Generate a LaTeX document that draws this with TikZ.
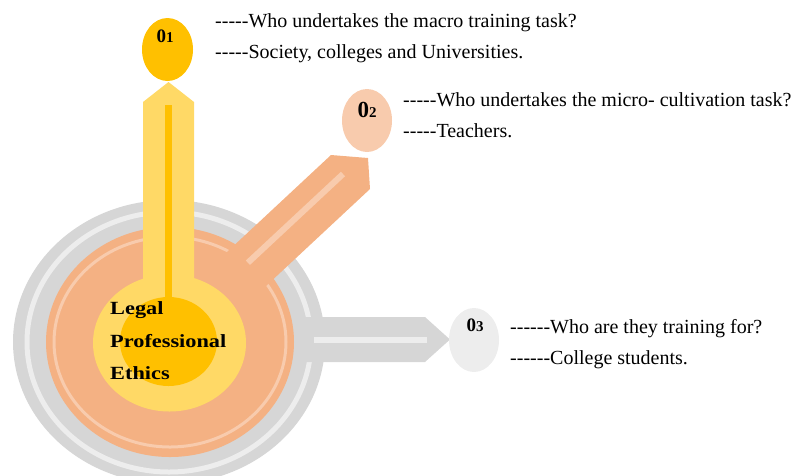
\documentclass[tikz,border=0pt]{standalone}
\usepackage{fontspec}
\setmainfont{Liberation Serif}
\usetikzlibrary{shapes.geometric}
\definecolor{cgold}{HTML}{FFC000}
\definecolor{cyel}{HTML}{FFD966}
\definecolor{corange}{HTML}{F4B183}
\definecolor{cpeach}{HTML}{F8CBAD}
\definecolor{cgrey}{HTML}{D6D6D6}
\definecolor{clgrey}{HTML}{EDEDED}
\newcommand\dsh{-\kern0pt}
\begin{document}
\begin{tikzpicture}[x=1pt,y=-1pt,
  blob/.style={ellipse, inner sep=0pt, outer sep=0pt},
  desc/.style={anchor=base west, inner sep=0pt, font=\fontsize{20}{20}\selectfont},
  numlbl/.style={anchor=base, inner sep=0pt, font=\bfseries\fontsize{19}{19}\selectfont},
  core/.style={anchor=base west, inner sep=0pt, font=\bfseries\fontsize{18.6}{18.6}\selectfont}]
\useasboundingbox (0,0) rectangle (799,475);
\clip (0,0) rectangle (799,475);
% outer grey disc and ring
\node[blob, fill=cgrey, minimum width=312, minimum height=284] (gdisc) at (169,342) {};
\node[blob, draw=clgrey, line width=5pt, minimum width=284, minimum height=260] (gring) at (169,342) {};
% grey horizontal arm
\fill[cgrey] (169,317) -- (425,317) -- (450,339.5) -- (425,362) -- (169,362) -- cycle;
\fill[clgrey] (314,336.5) rectangle (427,342.5);
% orange disc and ring
\node[blob, fill=corange, minimum width=248, minimum height=230] (odisc) at (170,342) {};
\node[blob, draw=cpeach, line width=3pt, minimum width=232, minimum height=210] (oring) at (170,342) {};
% orange diagonal arm
\fill[corange] (147.4,326.2) -- (331,155) -- (368,158) -- (370,189) -- (186.4,360.2) -- cycle;
\fill[cpeach] (340.9,171.8) -- (345.1,176.2) -- (250,264.9) -- (245.8,260.5) -- cycle;
% yellow stem and discs
\fill[cyel] (143,342) -- (143,102) -- (168.5,82) -- (194,102) -- (194,342) -- cycle;
\node[blob, fill=cyel, minimum width=153, minimum height=137] (ydisc) at (169.5,343) {};
\node[blob, fill=cgold, minimum width=97, minimum height=89] (cdisc) at (168.5,341.5) {};
\fill[cgold] (165,105) rectangle (172,300);
% bubbles
\node[blob, fill=cgold, minimum width=51, minimum height=63] (b1) at (167.5,49.5) {};
\node[blob, fill=cpeach, minimum width=50, minimum height=63] (b2) at (367,120.5) {};
\node[blob, fill=clgrey, minimum width=50, minimum height=64] (b3) at (474,340) {};
\node[numlbl] (n1) at (165,42) {0{\fontsize{15}{15}\selectfont 1}};
\node[numlbl, font=\bfseries\fontsize{23}{23}\selectfont] (n2) at (367,117.7) {0{\fontsize{15}{15}\selectfont 2}};
\node[numlbl] (n3) at (475,331) {0{\fontsize{15}{15}\selectfont 3}};
% core text
\node[core] (l1) at (110,314) {\scalebox{1.2}[1]{Legal}};
\node[core] (l2) at (110,347) {\scalebox{1.2}[1]{Professional}};
\node[core] (l3) at (110,379) {\scalebox{1.2}[1]{Ethics}};
% descriptions
\node[desc] (d1a) at (215,27) {\dsh\dsh\dsh\dsh\dsh Who undertakes the macro training task?};
\node[desc] (d1b) at (215,58) {\dsh\dsh\dsh\dsh\dsh Society, colleges and Universities.};
\node[desc] (d2a) at (403,106) {\dsh\dsh\dsh\dsh\dsh Who undertakes the micro- cultivation task?};
\node[desc] (d2b) at (403,137) {\dsh\dsh\dsh\dsh\dsh Teachers.};
\node[desc] (d3a) at (510,333) {\dsh\dsh\dsh\dsh\dsh\dsh Who are they training for?};
\node[desc] (d3b) at (510,364) {\dsh\dsh\dsh\dsh\dsh\dsh College students.};
\end{tikzpicture}
\end{document}
